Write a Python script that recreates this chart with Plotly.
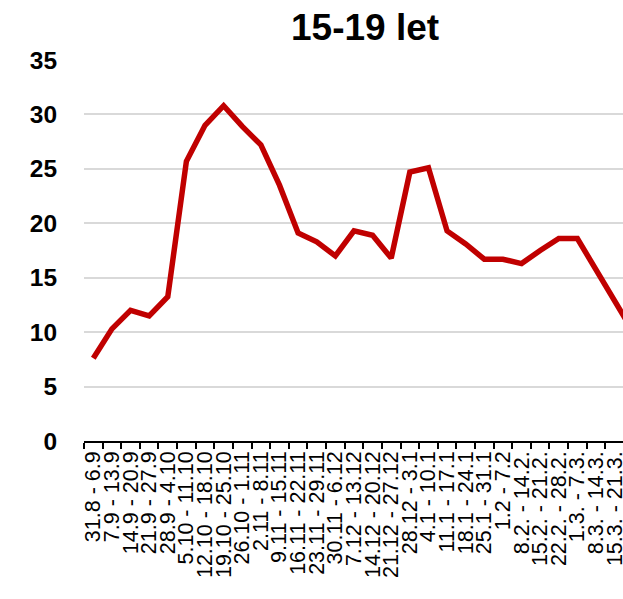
import plotly.graph_objects as go

categories = [
    "31.8 - 6.9", "7.9 - 13.9", "14.9 - 20.9", "21.9 - 27.9", "28.9 - 4.10",
    "5.10 - 11.10", "12.10 - 18.10", "19.10 - 25.10", "26.10 - 1.11", "2.11 - 8.11",
    "9.11 - 15.11", "16.11 - 22.11", "23.11 - 29.11", "30.11 - 6.12", "7.12 - 13.12",
    "14.12 - 20.12", "21.12 - 27.12", "28.12 - 3.1", "4.1 - 10.1", "11.1 - 17.1",
    "18.1 - 24.1", "25.1 - 31.1", "1.2 - 7.2", "8.2. - 14.2.", "15.2. - 21.2.",
    "22.2. - 28.2.", "1.3. - 7.3.", "8.3. - 14.3.", "15.3. - 21.3.", "22.3. - 28.3.",
]
values = [
    7.6, 10.3, 12.0, 11.5, 13.25,
    25.7, 29.0, 30.8, 28.9, 27.2,
    23.5, 19.1, 18.3, 17.0, 19.3,
    18.9, 16.8, 24.7, 25.1, 19.3,
    18.1, 16.7, 16.7, 16.3, 17.5,
    18.6, 18.6, 15.7, 12.8, 10.0,
]
y_ticks = [0, 5, 10, 15, 20, 25, 30, 35]

fig = go.Figure()
fig.add_trace(go.Scatter(
    x=list(range(len(categories))), y=values, mode="lines",
    line=dict(color="#c00000", width=5.5),
    cliponaxis=True,
))

fig.update_layout(
    width=623, height=599,
    margin=dict(l=84, r=0, t=59.5, b=157.7),
    paper_bgcolor="white", plot_bgcolor="white",
    showlegend=False,
    title=dict(
        text="<b>15-19 let</b>",
        font=dict(family="Liberation Sans, Arial", size=37, color="black"),
        x=0.586, xanchor="center", xref="container",
        y=0.955, yanchor="middle", yref="container",
    ),
)

fig.update_xaxes(
    range=[-0.5, 28.45],
    automargin=False,
    tickmode="array",
    tickvals=list(range(len(categories))),
    ticktext=categories,
    tickangle=-90,
    ticklabeloverflow="allow",
    tickfont=dict(family="Liberation Sans, Arial", size=21.5, color="black"),
    showline=True, linecolor="black", linewidth=1.5,
    ticks="",
    minor=dict(tick0=-0.5, dtick=1, ticks="outside", ticklen=6,
               tickcolor="black", tickwidth=1.5, showgrid=False),
    showgrid=False, zeroline=False,
)

fig.update_yaxes(
    range=[0, 35],
    automargin=False,
    tickmode="array", tickvals=y_ticks,
    ticktext=[f"<b>{v}</b>" for v in y_ticks],
    tickfont=dict(family="Liberation Sans, Arial", size=24.5, color="black"),
    showgrid=True, gridcolor="#d9d9d9", gridwidth=1.5,
    zeroline=False, showline=False,
    ticks="outside", ticklen=21, tickcolor="rgba(0,0,0,0)",
)

fig.write_html(
    "out.html",
    config={"displayModeBar": False},
    post_script="document.body.style.margin='0';document.body.style.padding='0';",
)
